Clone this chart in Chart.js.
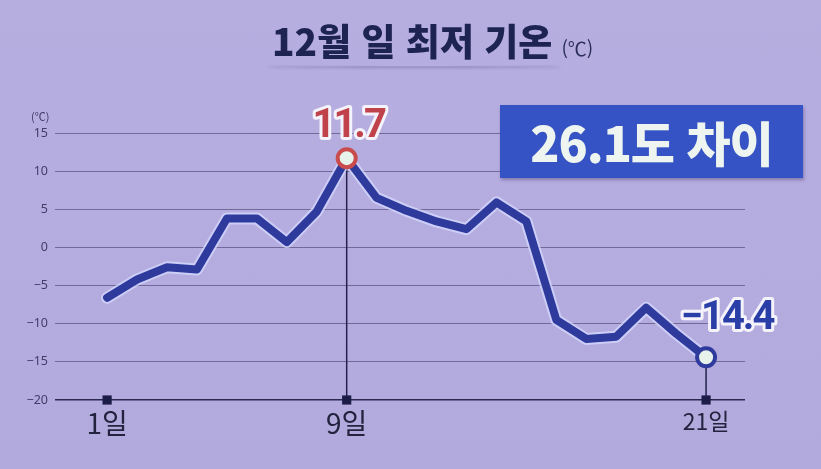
<!DOCTYPE html>
<html lang="ko">
<head>
<meta charset="utf-8">
<title>12월 일 최저 기온</title>
<script src="https://cdn.jsdelivr.net/npm/chart.js@4.4.1/dist/chart.umd.min.js"></script>
<style>
    html, body {
        margin: 0;
        padding: 0;
        width: 821px;
        height: 469px;
        overflow: hidden;
        background: linear-gradient(180deg, #b7aee0 0%, #b2a9dd 100%);
        font-family: "Noto Sans CJK KR", "Noto Sans", sans-serif;
    }
    #wrap {
        position: relative;
        width: 821px;
        height: 469px;
    }
    #chart {
        position: absolute;
        left: 0;
        top: 0;
    }
    .title-shadow {
        position: absolute;
        left: 266px;
        top: 62px;
        width: 296px;
        height: 4px;
        border-radius: 50%;
        box-shadow: 0 3px 3px -1px rgba(60, 50, 110, 0.35);
    }
    .title {
        position: absolute;
        left: 272px;
        top: 14px;
        color: #1e2452;
        font-weight: 900;
        font-size: 37px;
        line-height: 52px;
        white-space: nowrap;
    }
    .title small {
        font-size: 19px;
        font-weight: 400;
        margin-left: 9px;
        color: #2a2d55;
    }
    .unit {
        position: absolute;
        left: 31px;
        top: 108px;
        font-size: 11px;
        color: #3e3a62;
    }
    .diff-box {
        position: absolute;
        left: 500px;
        top: 105px;
        width: 303px;
        height: 73px;
        background: #3553c4;
        color: #eef4ef;
        font-weight: 900;
        font-size: 48px;
        line-height: 73px;
        text-align: center;
        letter-spacing: -1px;
        box-shadow: 1px 2px 3px rgba(40, 30, 90, 0.35);
    }
</style>
</head>
<body>
<div id="wrap">
    <canvas id="chart" width="821" height="469"></canvas>
    <div class="title-shadow"></div>
    <div class="title">12월 일 최저 기온<small>(℃)</small></div>
    <div class="unit">(℃)</div>
    <div class="diff-box">26.1도 차이</div>
</div>

<script>
// Daily minimum temperature, December 1st - 21st (℃)
const days = [1, 2, 3, 4, 5, 6, 7, 8, 9, 10, 11, 12, 13, 14, 15, 16, 17, 18, 19, 20, 21];
const temps = [-6.6, -4.2, -2.6, -2.9, 3.8, 3.8, 0.7, 4.7, 11.7, 6.5, 4.8, 3.4, 2.4, 5.9, 3.4,
               -9.5, -12.0, -11.7, -7.9, -11.3, -14.4];

// days shown on the x axis / marked on the baseline
const markedDays = [1, 9, 21];
// days whose value gets a highlighted point and a label
const highlightDays = [9, 21];

const yTicks = [-20, -15, -10, -5, 0, 5, 10, 15];

const LINE_COLOR = '#2f3a9d';
const HIGH_COLOR = '#c94b4b';

const points = days.map((d, i) => ({ x: d, y: temps[i] }));
const baseMarks = markedDays.map(d => ({ x: d, y: yTicks[0] }));

function isHighlight(ctx) {
    const p = ctx.raw;
    return p && highlightDays.includes(p.x);
}

// Vertical drop lines from highlighted points to the baseline
const dropLines = {
    id: 'dropLines',
    beforeDatasetsDraw(chart) {
        const { ctx, scales } = chart;
        const yBase = scales.y.getPixelForValue(yTicks[0]);
        ctx.save();
        ctx.strokeStyle = '#23224a';
        ctx.lineWidth = 1.5;
        highlightDays.forEach(d => {
            const i = days.indexOf(d);
            const x = scales.x.getPixelForValue(d);
            const y = scales.y.getPixelForValue(temps[i]);
            ctx.beginPath();
            ctx.moveTo(x, y);
            ctx.lineTo(x, yBase);
            ctx.stroke();
        });
        ctx.restore();
    }
};

// Big outlined value labels (max / min)
const valueLabels = {
    id: 'valueLabels',
    afterDatasetsDraw(chart) {
        const { ctx, scales } = chart;
        ctx.save();
        ctx.font = 'bold 40px Roboto, "Noto Sans", sans-serif';
        ctx.textAlign = 'center';
        ctx.textBaseline = 'middle';
        ctx.lineJoin = 'round';
        if ('letterSpacing' in ctx) ctx.letterSpacing = '-2px';
        highlightDays.forEach(d => {
            const i = days.indexOf(d);
            const v = temps[i];
            const x = scales.x.getPixelForValue(d);
            const y = scales.y.getPixelForValue(v);
            const text = v.toFixed(1).replace('-', '−');
            const isMax = v === Math.max(...temps);
            const lx = isMax ? x + 2 : x + 21;
            const ly = isMax ? y - 31 : y - 38;
            ctx.lineWidth = 6;
            ctx.strokeStyle = '#f4f2fa';
            ctx.strokeText(text, lx, ly);
            ctx.fillStyle = isMax ? '#c0434b' : '#2a3ea8';
            ctx.fillText(text, lx, ly);
        });
        ctx.restore();
    }
};

new Chart(document.getElementById('chart'), {
    type: 'line',
    data: {
        datasets: [
            {
                label: 'marks',
                data: baseMarks,
                showLine: false,
                clip: false,
                pointStyle: 'rect',
                pointRadius: 6.5,
                pointBackgroundColor: '#1c1c48',
                pointBorderWidth: 0,
                order: 1
            },
            {
                label: '최저 기온',
                data: points,
                borderColor: LINE_COLOR,
                borderWidth: 8,
                borderJoinStyle: 'round',
                borderCapStyle: 'round',
                tension: 0,
                clip: false,
                pointRadius: ctx => isHighlight(ctx) ? 9 : 0,
                pointBackgroundColor: '#e6f2ea',
                pointBorderColor: ctx => (ctx.raw && ctx.raw.x === 9) ? HIGH_COLOR : LINE_COLOR,
                pointBorderWidth: 4,
                order: 2
            },
            {
                label: 'glow',
                data: points,
                borderColor: 'rgba(214, 218, 255, 0.75)',
                borderWidth: 12,
                borderJoinStyle: 'round',
                borderCapStyle: 'round',
                tension: 0,
                pointRadius: 0,
                order: 3
            }
        ]
    },
    options: {
        responsive: false,
        animation: false,
        events: [],
        layout: {
            padding: { top: 133, right: 76, left: 0, bottom: 0 }
        },
        plugins: {
            legend: { display: false },
            tooltip: { enabled: false }
        },
        scales: {
            x: {
                type: 'linear',
                min: -0.74,
                max: 22.3,
                afterFit(scale) { scale.height = 69; },
                afterBuildTicks(scale) {
                    scale.ticks = markedDays.map(d => ({ value: d }));
                },
                grid: { display: false, drawTicks: false },
                border: { display: false },
                ticks: {
                    padding: 7,
                    color: '#24233f',
                    autoSkip: false,
                    maxRotation: 0,
                    font: ctx => ({
                        family: '"Noto Sans CJK KR", sans-serif',
                        size: ctx.tick && ctx.tick.value === 21 ? 23 : 28
                    }),
                    callback: v => v + '일'
                }
            },
            y: {
                min: yTicks[0],
                max: yTicks[yTicks.length - 1],
                afterFit(scale) { scale.width = 55; },
                afterBuildTicks(scale) {
                    scale.ticks = yTicks.map(v => ({ value: v }));
                },
                grid: {
                    drawTicks: false,
                    color: ctx => ctx.tick && ctx.tick.value === yTicks[0] ? '#2a2850' : 'rgba(70, 62, 105, 0.6)',
                    lineWidth: ctx => ctx.tick && ctx.tick.value === yTicks[0] ? 1.6 : 1
                },
                border: { display: false },
                ticks: {
                    padding: 7,
                    color: '#413d66',
                    font: { family: '"Noto Sans", sans-serif', size: 12.5 },
                    callback: v => String(v).replace('-', '−')
                }
            }
        }
    },
    plugins: [dropLines, valueLabels]
});
</script>
</body>
</html>
